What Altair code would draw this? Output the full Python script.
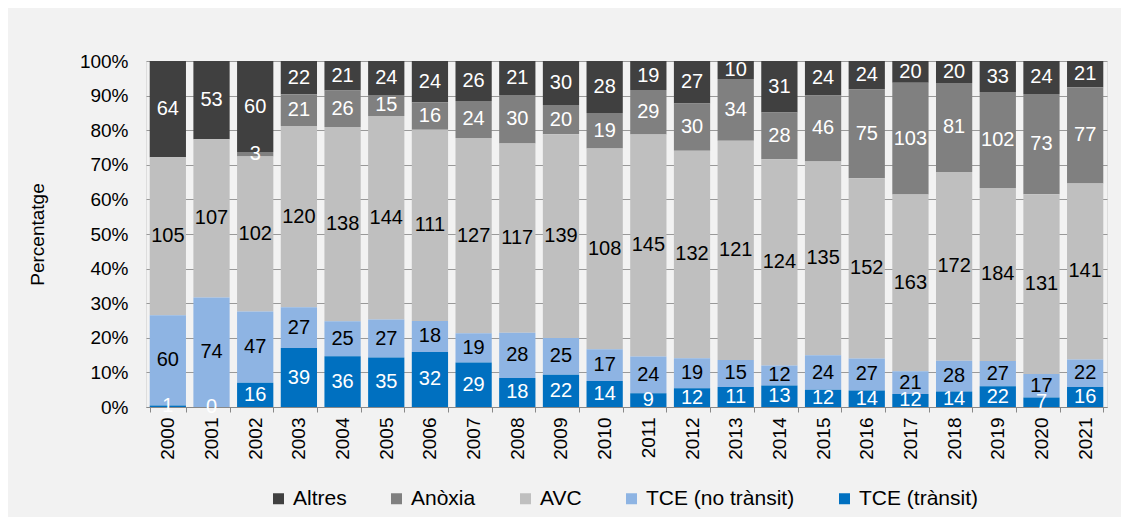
import altair as alt
import pandas as pd

years = [str(y) for y in range(2000, 2022)]
tce_transit = [1, 0, 16, 39, 36, 35, 32, 29, 18, 22, 14, 9, 12, 11, 13, 12, 14, 12, 14, 22, 7, 16]
tce_no_transit = [60, 74, 47, 27, 25, 27, 18, 19, 28, 25, 17, 24, 19, 15, 12, 24, 27, 21, 28, 27, 17, 22]
avc = [105, 107, 102, 120, 138, 144, 111, 127, 117, 139, 108, 145, 132, 121, 124, 135, 152, 163, 172, 184, 131, 141]
anoxia = [None, None, 3, 21, 26, 15, 16, 24, 30, 20, 19, 29, 30, 34, 28, 46, 75, 103, 81, 102, 73, 77]
altres = [64, 53, 60, 22, 21, 24, 24, 26, 21, 30, 28, 19, 27, 10, 31, 24, 24, 20, 20, 33, 24, 21]

categories = ["Altres", "Anòxia", "AVC", "TCE (no trànsit)", "TCE (trànsit)"]
series = [altres, anoxia, avc, tce_no_transit, tce_transit]
colors = ["#404040", "#808080", "#bfbfbf", "#8eb4e3", "#0070c0"]
label_colors = ["white", "white", "black", "black", "white"]
stack_rank = [4, 3, 2, 1, 0]
y_ticks = [0, 0.1, 0.2, 0.3, 0.4, 0.5, 0.6, 0.7, 0.8, 0.9, 1.0]

rows = []
for cat, vals, lc, rk in zip(categories, series, label_colors, stack_rank):
    for yr, v in zip(years, vals):
        rows.append({"year": yr, "cause": cat, "value": v, "tc": lc, "rank": rk})
df = pd.DataFrame(rows)

FONT = "Liberation Sans"

x_enc = alt.X(
    "year:N",
    title=None,
    sort=years,
    scale=alt.Scale(paddingInner=0.17, paddingOuter=0.085),
    axis=alt.Axis(
        labelAngle=270,
        tickBand="extent",
        tickSize=5,
        tickColor="#888888",
        domainColor="#888888",
        labelPadding=5,
        labelFontSize=19,
        labelColor="black",
        grid=False,
    ),
)

y_axis = alt.Axis(
    format=".0%",
    values=y_ticks,
    tickCount=20,
    labelOverlap=False,
    title="Percentatge",
    titleFontSize=19,
    titleFontWeight="normal",
    titleColor="black",
    titlePadding=32,
    labelFontSize=19,
    labelColor="black",
    labelPadding=18,
    ticks=False,
    domain=False,
    grid=True,
    gridColor="#999999",
)

bars = alt.Chart(df).mark_bar().encode(
    x=x_enc,
    y=alt.Y(
        "value:Q",
        stack="normalize",
        scale=alt.Scale(domain=[0, 1]),
        axis=y_axis,
    ),
    color=alt.Color(
        "cause:N",
        scale=alt.Scale(domain=categories, range=colors),
        legend=alt.Legend(
            title=None,
            orient="none",
            legendX=122,
            legendY=427,
            direction="horizontal",
            symbolType="square",
            symbolSize=121,
            symbolStrokeWidth=0,
            labelFontSize=21,
            labelColor="black",
            labelOffset=4,
            columnPadding=39,
        ),
    ),
    order=alt.Order("rank:Q", sort="ascending"),
)

labels = (
    alt.Chart(df)
    .transform_filter("datum.value != null")
    .transform_joinaggregate(total="sum(value)", groupby=["year"])
    .transform_calculate(pct="datum.value / datum.total")
    .transform_window(
        cum="sum(pct)",
        groupby=["year"],
        sort=[alt.SortField("rank", order="ascending")],
        frame=[None, 0],
    )
    .transform_calculate(mid="datum.cum - datum.pct / 2")
    .mark_text(fontSize=20, font=FONT, align="center", baseline="middle")
    .encode(
        x=alt.X("year:N", sort=years),
        y=alt.Y("mid:Q", scale=alt.Scale(domain=[0, 1]), axis=y_axis),
        text=alt.Text("value:Q", format="d"),
        color=alt.Color("tc:N", scale=None),
    )
)

chart = (
    alt.layer(bars, labels)
    .properties(
        width=961,
        height=346,
        autosize=alt.AutoSizeParams(type="none"),
        padding={"left": 138, "top": 53, "right": 14, "bottom": 110},
        background="#f2f2f2",
    )
    .configure_view(fill="white", strokeOpacity=0)
    .configure(font=FONT)
)

chart.save("out.html", embed_options={"renderer": "svg", "actions": False})
